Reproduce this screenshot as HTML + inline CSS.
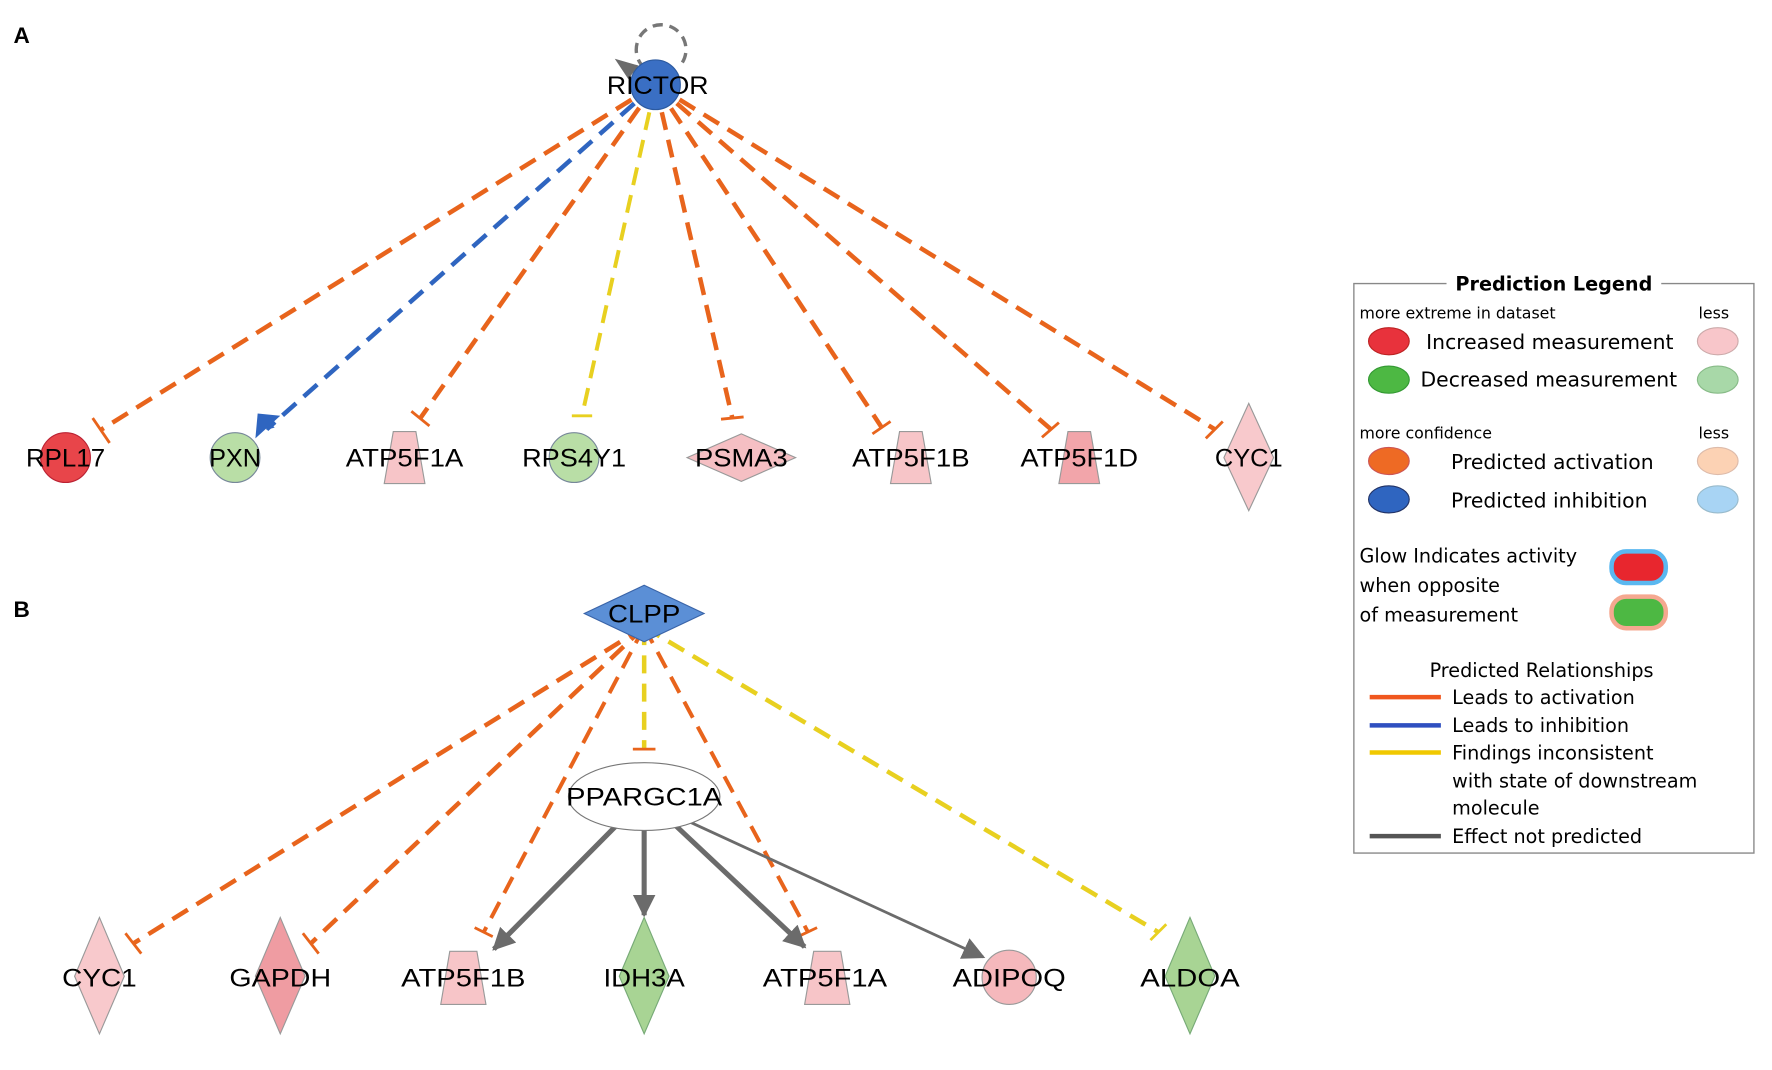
<!DOCTYPE html>
<html><head><meta charset="utf-8"><style>
html,body{margin:0;padding:0;background:#fff;width:1772px;height:1070px;overflow:hidden}
svg{display:block}
</style></head><body>
<svg width="1772" height="1070" viewBox="0 0 1568 947" preserveAspectRatio="none" xmlns="http://www.w3.org/2000/svg" font-family="Liberation Sans, Arial, sans-serif">
<defs>
<marker id="ab" viewBox="0 0 10 10" refX="9" refY="5" markerWidth="7" markerHeight="7" orient="auto" markerUnits="userSpaceOnUse"><path d="M0,0L10,5L0,10z" fill="#2f65c0"/></marker>
<marker id="ag" viewBox="0 0 10 10" refX="9" refY="5" markerWidth="20" markerHeight="20" orient="auto" markerUnits="userSpaceOnUse"><path d="M0,0L10,5L0,10z" fill="#6b6b6b"/></marker>
</defs>
<text x="12" y="38" font-size="20" font-weight="bold" font-family="Liberation Sans, sans-serif">A</text>
<text x="12" y="546" font-size="20" font-weight="bold" font-family="Liberation Sans, sans-serif">B</text>

<!-- A edges -->
<g fill="none" stroke-width="4" stroke-dasharray="16,9">
<path d="M580,75 L90,380" stroke="#e8641c"/>
<path d="M580,75 L236,380" stroke="#2f65c0" marker-end="url(#ab)"/>
<path d="M580,75 L372,370" stroke="#e8641c"/>
<path d="M580,75 L515,368" stroke="#e8d020" stroke-width="3.5"/>
<path d="M580,75 L648,370" stroke="#e8641c"/>
<path d="M580,75 L780,378" stroke="#e8641c"/>
<path d="M580,75 L930,380" stroke="#e8641c"/>
<path d="M580,75 L1075,380" stroke="#e8641c"/>
</g>
<polygon points="248,368 226,388 228,366" fill="#2f65c0"/>
<g stroke-width="2.5">
<line x1="82" y1="370" x2="97" y2="392" stroke="#e8641c"/>
<line x1="364" y1="364" x2="380" y2="377" stroke="#e8641c"/>
<line x1="506" y1="368" x2="524" y2="368" stroke="#e8d020"/>
<line x1="638" y1="371" x2="658" y2="369" stroke="#e8641c"/>
<line x1="772" y1="384" x2="788" y2="373" stroke="#e8641c"/>
<line x1="922" y1="387" x2="937" y2="374" stroke="#e8641c"/>
<line x1="1067" y1="388" x2="1082" y2="373" stroke="#e8641c"/>
</g>
<!-- self loop -->
<path d="M570,60 A22,22 0 1 1 600,60" fill="none" stroke="#777" stroke-width="3" stroke-dasharray="9,6"/>
<polygon points="544,52 565,58 556,70" fill="#6b6b6b"/>
<!-- A nodes -->
<circle cx="580" cy="75" r="22" fill="#3a6fc4" stroke="#2c5aa0"/>
<circle cx="58" cy="405" r="22" fill="#e8454a" stroke="#b23"/>
<circle cx="208" cy="405" r="22" fill="#b9dea6" stroke="#789"/>
<polygon points="348,382 368,382 376,428 340,428" fill="#f7c5c8" stroke="#999"/>
<circle cx="508" cy="405" r="22" fill="#b9dea6" stroke="#789"/>
<polygon points="656,384 704,405 656,426 608,405" fill="#f5bfc3" stroke="#999"/>
<polygon points="796,382 816,382 824,428 788,428" fill="#f7c5c8" stroke="#999"/>
<polygon points="945,382 965,382 973,428 937,428" fill="#f2a5aa" stroke="#999"/>
<polygon points="1105,357 1127,405 1105,452 1083,405" fill="#f8c9cc" stroke="#999"/>
<g font-size="22" text-anchor="middle" font-family="Liberation Sans, Arial, sans-serif">
<text x="582" y="83" textLength="90" lengthAdjust="spacingAndGlyphs">RICTOR</text>
<text x="58" y="413" textLength="70" lengthAdjust="spacingAndGlyphs">RPL17</text>
<text x="208" y="413" textLength="46" lengthAdjust="spacingAndGlyphs">PXN</text>
<text x="358" y="413" textLength="104" lengthAdjust="spacingAndGlyphs">ATP5F1A</text>
<text x="508" y="413" textLength="92" lengthAdjust="spacingAndGlyphs">RPS4Y1</text>
<text x="656" y="413" textLength="82" lengthAdjust="spacingAndGlyphs">PSMA3</text>
<text x="806" y="413" textLength="104" lengthAdjust="spacingAndGlyphs">ATP5F1B</text>
<text x="955" y="413" textLength="104" lengthAdjust="spacingAndGlyphs">ATP5F1D</text>
<text x="1105" y="413" textLength="60" lengthAdjust="spacingAndGlyphs">CYC1</text>
</g>

<!-- B edges -->
<g fill="none" stroke-width="4" stroke-dasharray="16,9">
<path d="M570,555 L118,835" stroke="#e8641c"/>
<path d="M570,555 L275,835" stroke="#e8641c"/>
<path d="M570,555 L428,825" stroke="#e8641c" stroke-width="3.5"/>
<path d="M570,555 L570,663" stroke="#e8d020"/>
<path d="M570,555 L715,825" stroke="#e8641c" stroke-width="3.5"/>
<path d="M570,555 L1025,825" stroke="#e8d020"/>
</g>
<g stroke-width="2.5">
<line x1="111" y1="826" x2="125" y2="844" stroke="#e8641c"/>
<line x1="268" y1="826" x2="282" y2="844" stroke="#e8641c"/>
<line x1="420" y1="821" x2="436" y2="829" stroke="#e8641c"/>
<line x1="560" y1="663" x2="580" y2="663" stroke="#e8641c"/>
<line x1="706" y1="829" x2="723" y2="821" stroke="#e8641c"/>
<line x1="1018" y1="832" x2="1032" y2="818" stroke="#e8d020"/>
</g>
<g stroke="#6b6b6b" fill="none">
<path d="M548,728 L437,840" stroke-width="4.5" marker-end="url(#ag)"/>
<path d="M570,735 L570,810" stroke-width="4.5" marker-end="url(#ag)"/>
<path d="M595,728 L712,838" stroke-width="4.5" marker-end="url(#ag)"/>
<path d="M605,725 L870,847" stroke-width="2.5" marker-end="url(#ag)"/>
</g>
<!-- B nodes -->
<polygon points="570,518 623,543 570,568 517,543" fill="#5b8fd6" stroke="#3a64a8"/>
<ellipse cx="570" cy="705" rx="67" ry="30" fill="#fff" stroke="#777"/>
<polygon points="88,812 110,864 88,915 66,864" fill="#f8c9cc" stroke="#999"/>
<polygon points="248,812 270,864 248,915 226,864" fill="#ef9ca2" stroke="#999"/>
<polygon points="398,842 422,842 430,889 390,889" fill="#f7c5c8" stroke="#999"/>
<polygon points="570,812 592,864 570,915 548,864" fill="#a8d494" stroke="#7a7"/>
<polygon points="720,842 744,842 752,889 712,889" fill="#f7c5c8" stroke="#999"/>
<circle cx="893" cy="865" r="24" fill="#f5b8bc" stroke="#999"/>
<polygon points="1053,812 1075,864 1053,915 1031,864" fill="#a8d494" stroke="#7a7"/>
<g font-size="22" text-anchor="middle" font-family="Liberation Sans, Arial, sans-serif">
<text x="570" y="551" textLength="64" lengthAdjust="spacingAndGlyphs">CLPP</text>
<text x="570" y="713" textLength="138" lengthAdjust="spacingAndGlyphs">PPARGC1A</text>
<text x="88" y="873" textLength="66" lengthAdjust="spacingAndGlyphs">CYC1</text>
<text x="248" y="873" textLength="90" lengthAdjust="spacingAndGlyphs">GAPDH</text>
<text x="410" y="873" textLength="110" lengthAdjust="spacingAndGlyphs">ATP5F1B</text>
<text x="570" y="873" textLength="72" lengthAdjust="spacingAndGlyphs">IDH3A</text>
<text x="730" y="873" textLength="110" lengthAdjust="spacingAndGlyphs">ATP5F1A</text>
<text x="893" y="873" textLength="100" lengthAdjust="spacingAndGlyphs">ADIPOQ</text>
<text x="1053" y="873" textLength="88" lengthAdjust="spacingAndGlyphs">ALDOA</text>
</g>

<!-- Legend -->
<g font-family="DejaVu Sans, Liberation Sans, sans-serif">
<path d="M1280,251 L1198,251 L1198,755 L1552,755 L1552,251 L1470,251" fill="none" stroke="#888" stroke-width="1.2"/>
<text x="1375" y="257" font-size="17" font-weight="bold" text-anchor="middle">Prediction Legend</text>
<text x="1203" y="282" font-size="14">more extreme in dataset</text>
<text x="1503" y="282" font-size="14">less</text>
<ellipse cx="1229" cy="302" rx="18" ry="12" fill="#e8323c" stroke="#b22"/>
<text x="1262" y="309" font-size="18">Increased measurement</text>
<ellipse cx="1520" cy="302" rx="18" ry="12" fill="#f8c6ca" stroke="#caa"/>
<ellipse cx="1229" cy="336" rx="18" ry="12" fill="#4db843" stroke="#393"/>
<text x="1257" y="342" font-size="18">Decreased measurement</text>
<ellipse cx="1520" cy="336" rx="18" ry="12" fill="#a8d8a8" stroke="#8b8"/>
<text x="1203" y="388" font-size="14">more confidence</text>
<text x="1503" y="388" font-size="14">less</text>
<ellipse cx="1229" cy="408" rx="18" ry="12" fill="#ee6a24" stroke="#c55"/>
<text x="1284" y="415" font-size="18">Predicted activation</text>
<ellipse cx="1520" cy="408" rx="18" ry="12" fill="#fcd2b4" stroke="#dba"/>
<ellipse cx="1229" cy="442" rx="18" ry="12" fill="#2f65c0" stroke="#236"/>
<text x="1284" y="449" font-size="18">Predicted inhibition</text>
<ellipse cx="1520" cy="442" rx="18" ry="12" fill="#a8d4f4" stroke="#9bc"/>
<text x="1203" y="498" font-size="17">Glow Indicates activity</text>
<text x="1203" y="524" font-size="17">when opposite</text>
<text x="1203" y="550" font-size="17">of measurement</text>
<rect x="1426" y="488" width="48" height="28" rx="13" fill="#e8262e" stroke="#5ab8f0" stroke-width="4"/>
<rect x="1426" y="528" width="48" height="28" rx="13" fill="#4db843" stroke="#f5a890" stroke-width="4"/>
<text x="1265" y="599" font-size="17">Predicted Relationships</text>
<line x1="1212" y1="617" x2="1275" y2="617" stroke="#f0571e" stroke-width="4"/>
<text x="1285" y="623" font-size="17">Leads to activation</text>
<line x1="1212" y1="642" x2="1275" y2="642" stroke="#2f4fc0" stroke-width="4"/>
<text x="1285" y="648" font-size="17">Leads to inhibition</text>
<line x1="1212" y1="666" x2="1275" y2="666" stroke="#f0c800" stroke-width="4"/>
<text x="1285" y="672" font-size="17">Findings inconsistent</text>
<text x="1285" y="697" font-size="17">with state of downstream</text>
<text x="1285" y="721" font-size="17">molecule</text>
<line x1="1212" y1="740" x2="1275" y2="740" stroke="#555" stroke-width="4"/>
<text x="1285" y="746" font-size="17">Effect not predicted</text>
</g>
</svg>
</body></html>
